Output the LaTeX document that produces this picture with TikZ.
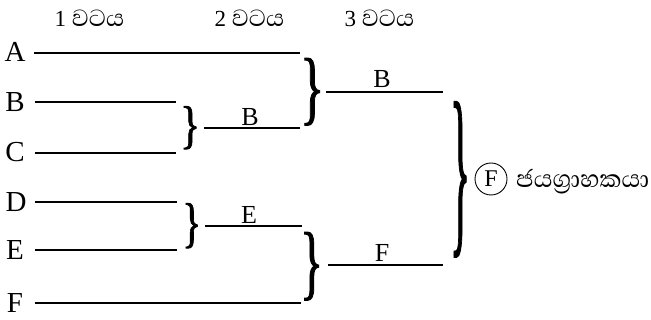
\documentclass[tikz,border=0pt]{standalone}
\usepackage{fontspec}
\usepackage{graphicx}
\setmainfont{Liberation Serif}
\newfontfamily\sinhalafont[Script=Sinhala]{Abhaya Libre}
\newfontfamily\bracefont[FakeBold=1.5]{Liberation Serif}
\newcommand{\tbrace}[2]{\resizebox*{#1}{#2}{\bracefont\}}}
\newcommand{\vataya}{{\fontsize{30}{30}\selectfont\sinhalafont වටය}}
\begin{document}
\begin{tikzpicture}[x=1pt,y=-1pt,
  lbl/.style={font=\fontsize{29}{29}\selectfont, anchor=base, inner sep=0},
  mid/.style={font=\fontsize{26}{26}\selectfont, anchor=base, inner sep=0},
  hdr/.style={font=\fontsize{23}{23}\selectfont, anchor=base, inner sep=0},
  brc/.style={anchor=north west, inner sep=0},
  bline/.style={line width=1.1pt}]
\useasboundingbox (0,0) rectangle (651,320);
% headers
\node[hdr] (h1) at (89.5,27) {1 \vataya};
\node[hdr] (h2) at (249.5,27) {2 \vataya};
\node[hdr] (h3) at (379.5,27) {3 \vataya};
% round 1 labels
\node[lbl] (A) at (15,62) {A};
\node[lbl] (B) at (15,112) {B};
\node[lbl] (C) at (15,162) {C};
\node[lbl] (D) at (16,212) {D};
\node[lbl] (E) at (15,260) {E};
\node[lbl] (F) at (15,313) {F};
% line ends
\coordinate (a0) at (34,53);  \coordinate (a1) at (300,53);
\coordinate (b0) at (35,102); \coordinate (b1) at (176,102);
\coordinate (c0) at (35,153); \coordinate (c1) at (176,153);
\coordinate (d0) at (35,202); \coordinate (d1) at (177,202);
\coordinate (e0) at (35,250); \coordinate (e1) at (177,250);
\coordinate (f0) at (35,303); \coordinate (f1) at (301,303);
\draw[bline] (a0) -- (a1);
\draw[bline] (b0) -- (b1);
\draw[bline] (c0) -- (c1);
\draw[bline] (d0) -- (d1);
\draw[bline] (e0) -- (e1);
\draw[bline] (f0) -- (f1);
% round 1 braces
\node[brc] (brBC) at (180,106) {\tbrace{20pt}{43pt}};
\node[brc] (brDE) at (182,203) {\tbrace{19pt}{45pt}};
% round 2
\coordinate (r2b0) at (204,128); \coordinate (r2b1) at (300,128);
\coordinate (r2e0) at (205,226); \coordinate (r2e1) at (302,226);
\draw[bline] (r2b0) -- (r2b1);
\draw[bline] (r2e0) -- (r2e1);
\node[mid] (lB2) at (250,126) {B};
\node[mid] (lE2) at (249,224) {E};
% round 2 braces
\node[brc] (brAB) at (300,58) {\tbrace{24pt}{67pt}};
\node[brc] (brEF) at (300,232) {\tbrace{23pt}{68pt}};
% round 3
\coordinate (r3b0) at (326,92); \coordinate (r3b1) at (443,92);
\coordinate (r3f0) at (328,265); \coordinate (r3f1) at (443,265);
\draw[bline] (r3b0) -- (r3b1);
\draw[bline] (r3f0) -- (r3f1);
\node[mid] (lB3) at (382,88) {B};
\node[mid] (lF3) at (382,262) {F};
% final brace
\node[brc] (brF) at (450,102) {\tbrace{20pt}{154pt}};
% winner
\node[draw, circle, line width=0.9pt, minimum size=32pt, inner sep=0,
      font=\fontsize{24}{24}\selectfont] (W) at (491,179) {F};
\node[anchor=west, inner sep=0, font=\fontsize{31}{31}\selectfont\sinhalafont] (wt) at (516,182) {ජයග්‍රාහකයා};
\end{tikzpicture}
\end{document}
